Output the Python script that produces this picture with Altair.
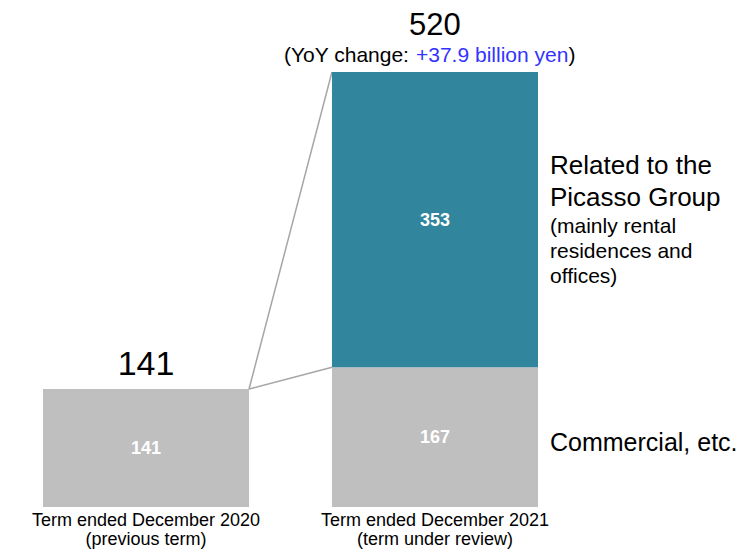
import altair as alt
import pandas as pd

# ---- data ----
periods = ["FY2020", "FY2021"]
period_labels = ["Term ended December 2020\n(previous term)",
                 "Term ended December 2021\n(term under review)"]
commercial = [141, 167]
picasso = [0, 353]
totals = [141, 520]
yoy_prefix = "(YoY change: "
yoy_value = "+37.9 billion yen"
yoy_suffix = ")"
label_picasso_main = "Related to the\nPicasso Group"
label_picasso_sub = "(mainly rental\nresidences and\noffices)"
label_commercial = "Commercial, etc."

FONT = "Liberation Sans"
TEAL = "#31859c"
GRAY = "#bfbfbf"

# ---- tables ----
bar_rows = []
for p, c, pi in zip(periods, commercial, picasso):
    bar_rows.append({"period": p, "segment": "Commercial", "start": 0, "end": c, "value": c})
    if pi > 0:
        bar_rows.append({"period": p, "segment": "Picasso", "start": c, "end": c + pi, "value": pi})
bars_df = pd.DataFrame(bar_rows)
bars_df["mid"] = (bars_df["start"] + bars_df["end"]) / 2

totals_df = pd.DataFrame({"period": periods, "total": totals, "label": [str(t) for t in totals]})
xlab_df = pd.DataFrame({"period": periods, "label": period_labels, "base": [0, 0]})

lines_df = pd.DataFrame({
    "from": [periods[0], periods[0]],
    "to": [periods[1], periods[1]],
    "y_from": [totals[0], totals[0]],
    "y_to": [totals[1], commercial[1]],
})

pic_mid = commercial[1] + picasso[1] / 2
com_mid = commercial[1] / 2
side_df = pd.DataFrame({"period": [periods[1]], "pic_mid": [pic_mid], "com_mid": [com_mid]})

yoy_df = pd.DataFrame({"period": [periods[1]], "total": [totals[1]],
                       "p1": [yoy_prefix], "p2": [yoy_value], "p3": [yoy_suffix]})

xscale = alt.Scale(type="band", domain=periods, range=[35, 530], paddingInner=0.287, paddingOuter=0)
yscale = alt.Scale(domain=[0, max(totals)], range=[499, 64], nice=False, zero=True)

bars = alt.Chart(bars_df).mark_bar().encode(
    x=alt.X("period:N", scale=xscale, axis=None),
    y=alt.Y("start:Q", scale=yscale, axis=None),
    y2="end:Q",
    color=alt.Color("segment:N", scale=alt.Scale(domain=["Commercial", "Picasso"], range=[GRAY, TEAL]), legend=None),
)

inner = alt.Chart(bars_df).mark_text(color="white", fontWeight="bold", fontSize=18, font=FONT, baseline="middle", dy=1).encode(
    x=alt.X("period:N", scale=xscale, axis=None),
    y=alt.Y("mid:Q", scale=yscale, axis=None),
    text="value:Q",
)

connectors = alt.Chart(lines_df).mark_rule(color="#a6a6a6", strokeWidth=1.5).encode(
    x=alt.X("from:N", scale=xscale, axis=None, bandPosition=1),
    x2=alt.X2("to:N", bandPosition=0),
    y=alt.Y("y_from:Q", scale=yscale, axis=None),
    y2="y_to:Q",
)

total_prev = alt.Chart(totals_df).transform_filter(alt.datum.period == periods[0]).mark_text(
    fontSize=34, font=FONT, color="black", baseline="alphabetic", dy=-14).encode(
    x=alt.X("period:N", scale=xscale, axis=None),
    y=alt.Y("total:Q", scale=yscale, axis=None),
    text="label:N",
)
total_cur = alt.Chart(totals_df).transform_filter(alt.datum.period == periods[1]).mark_text(
    fontSize=31, font=FONT, color="black", baseline="alphabetic", dy=-37).encode(
    x=alt.X("period:N", scale=xscale, axis=None),
    y=alt.Y("total:Q", scale=yscale, axis=None),
    text="label:N",
)

yoy_enc = dict(x=alt.X("period:N", scale=xscale, axis=None), y=alt.Y("total:Q", scale=yscale, axis=None))
yoy1 = alt.Chart(yoy_df).mark_text(fontSize=21, font=FONT, color="black", align="left", baseline="alphabetic",
                                   dx=-151, dy=-10).encode(text="p1:N", **yoy_enc)
yoy2 = alt.Chart(yoy_df).mark_text(fontSize=21, font=FONT, color="#3333ff", align="left", baseline="alphabetic",
                                   dx=-19, dy=-10).encode(text="p2:N", **yoy_enc)
yoy3 = alt.Chart(yoy_df).mark_text(fontSize=21, font=FONT, color="black", align="left", baseline="alphabetic",
                                   dx=133.5, dy=-10).encode(text="p3:N", **yoy_enc)

side_x = alt.X("period:N", scale=xscale, axis=None, bandPosition=1)
side1 = alt.Chart(side_df).mark_text(fontSize=26, font=FONT, color="black", align="left", baseline="alphabetic",
                                     dx=12, dy=-45.5, lineBreak="\n", lineHeight=32).encode(
    x=side_x, y=alt.Y("pic_mid:Q", scale=yscale, axis=None), text=alt.value(label_picasso_main))
side2 = alt.Chart(side_df).mark_text(fontSize=21, font=FONT, color="black", align="left", baseline="alphabetic",
                                     dx=12, dy=13.3, lineBreak="\n", lineHeight=25).encode(
    x=side_x, y=alt.Y("pic_mid:Q", scale=yscale, axis=None), text=alt.value(label_picasso_sub))
side3 = alt.Chart(side_df).mark_text(fontSize=25, font=FONT, color="black", align="left", baseline="alphabetic",
                                     dx=12, dy=14).encode(
    x=side_x, y=alt.Y("com_mid:Q", scale=yscale, axis=None), text=alt.value(label_commercial))

xlabels = alt.Chart(xlab_df).mark_text(fontSize=18, font=FONT, color="black", align="center", baseline="alphabetic",
                                       dy=19, lineBreak="\n", lineHeight=19).encode(
    x=alt.X("period:N", scale=xscale, axis=None),
    y=alt.Y("base:Q", scale=yscale, axis=None),
    text="label:N",
)

chart = alt.layer(
    connectors, bars, inner, total_prev, total_cur, yoy1, yoy2, yoy3, side1, side2, side3, xlabels
).properties(
    width=735, height=541, padding=0, autosize=alt.AutoSizeParams(type="none")
).configure(font=FONT, view=alt.ViewConfig(stroke=None))

chart.save("out.html", embed_options={"renderer": "svg", "actions": False})
